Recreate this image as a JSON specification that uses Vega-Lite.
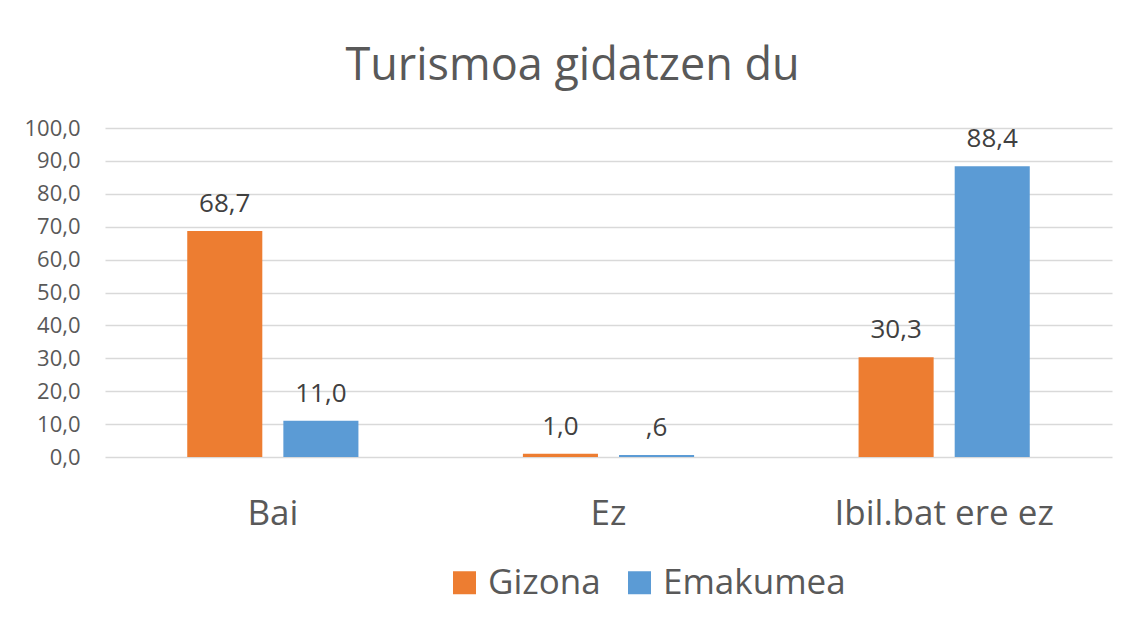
{
  "$schema": "https://vega.github.io/schema/vega-lite/v6.json",
  "width": 1007,
  "height": 329,
  "autosize": "none",
  "padding": {"left": 105, "top": 128, "right": 17, "bottom": 169},
  "background": "white",
  "config": {
    "font": "Open Sans",
    "view": {"stroke": null},
    "locale": {"number": {"decimal": ",", "thousands": ".", "grouping": [3], "currency": ["", " €"]}}
  },
  "title": {
    "text": "Turismoa gidatzen du",
    "fontSize": 45,
    "font": "Open Sans",
    "fontWeight": "normal",
    "color": "#595959",
    "anchor": "middle",
    "dx": -36,
    "offset": 28
  },
  "data": {
    "values": [
      {"cat": "Bai", "sex": "Gizona", "value": 68.7, "label": "68,7"},
      {"cat": "Bai", "sex": "Emakumea", "value": 11.0, "label": "11,0"},
      {"cat": "Ez", "sex": "Gizona", "value": 1.0, "label": "1,0"},
      {"cat": "Ez", "sex": "Emakumea", "value": 0.6, "label": ",6"},
      {"cat": "Ibil.bat ere ez", "sex": "Gizona", "value": 30.3, "label": "30,3"},
      {"cat": "Ibil.bat ere ez", "sex": "Emakumea", "value": 88.4, "label": "88,4"}
    ]
  },
  "encoding": {
    "x": {
      "field": "cat", "type": "nominal",
      "sort": ["Bai", "Ez", "Ibil.bat ere ez"],
      "scale": {"paddingInner": 0.49, "paddingOuter": 0.245},
      "axis": {"title": null, "labelAngle": 0, "labelFontSize": 35, "labelColor": "#595959", "ticks": false, "domain": false, "labelPadding": 39, "labelLimit": 0, "labelFont": "Open Sans"}
    },
    "xOffset": {
      "field": "sex", "type": "nominal",
      "sort": ["Gizona", "Emakumea"],
      "scale": {"paddingInner": 0.219, "paddingOuter": 0}
    },
    "y": {
      "field": "value", "type": "quantitative",
      "scale": {"domain": [0, 100], "nice": false},
      "axis": {
        "title": null, "values": [0, 10, 20, 30, 40, 50, 60, 70, 80, 90, 100], "format": ".1f",
        "labelFontSize": 22, "labelColor": "#595959", "labelPadding": 25, "ticks": false, "domain": false,
        "gridColor": "#D9D9D9", "gridWidth": 1.3, "labelFont": "Open Sans"
      }
    }
  },
  "layer": [
    {
      "mark": {"type": "bar"},
      "encoding": {
        "color": {
          "field": "sex", "type": "nominal",
          "sort": ["Gizona", "Emakumea"],
          "scale": {"domain": ["Gizona", "Emakumea"], "range": ["#ED7D31", "#5B9BD5"]},
          "legend": {
            "title": null, "orient": "none", "direction": "horizontal",
            "legendX": 342, "legendY": 437, "padding": 0,
            "symbolType": "square", "symbolSize": 529, "symbolStrokeWidth": 0,
            "labelFontSize": 35, "labelColor": "#595959", "labelOffset": 6, "columnPadding": 21,
            "labelFont": "Open Sans", "labelLimit": 0
          }
        }
      }
    },
    {
      "mark": {"type": "text", "baseline": "alphabetic", "dy": -19, "fontSize": 26, "color": "#404040", "font": "Open Sans"},
      "encoding": {"text": {"field": "label"}}
    }
  ]
}
